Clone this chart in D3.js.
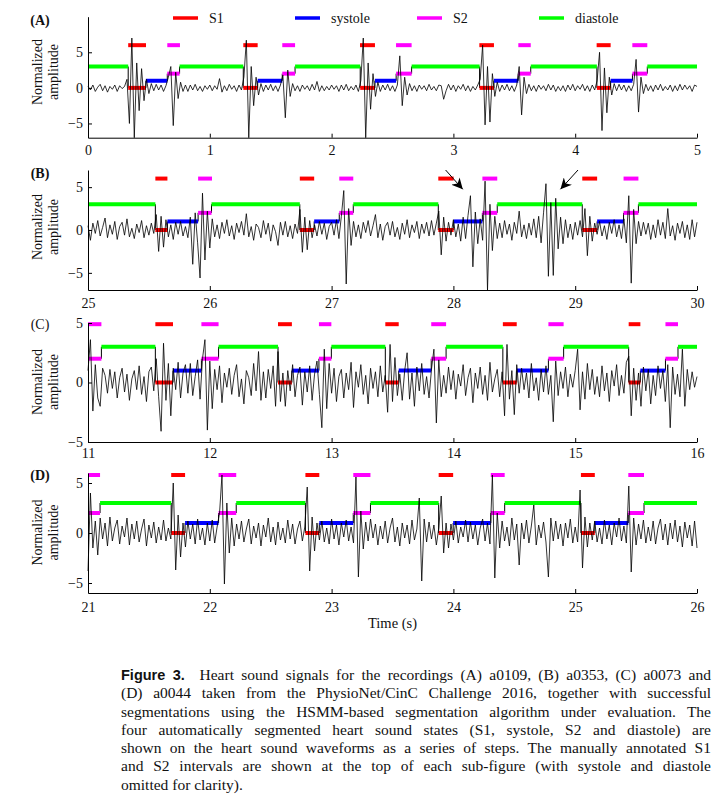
<!DOCTYPE html>
<html><head><meta charset="utf-8">
<script src="https://cdn.jsdelivr.net/npm/d3@7"></script>
<style>
body{margin:0;background:#fff;width:727px;height:807px;overflow:hidden;position:relative}
svg{position:absolute;left:0;top:0}
#cap{position:absolute;left:121px;top:666px;width:590px;font-family:"Liberation Serif","Times New Roman",serif;font-size:15.5px;line-height:18.3px;color:#111}
#cap div{white-space:nowrap;text-align:justify;text-align-last:justify}
#cap div.last{text-align-last:left}
#cap b{font-family:"Liberation Sans",Arial,sans-serif;font-weight:bold;font-size:14.5px}
</style></head><body>
<svg id="chart" width="727" height="660"></svg>
<div id="cap"></div>
<script>
// ---------------- DATA ----------------
const stateNames = ["S1", "systole", "S2", "diastole"];
const stateLevels = [0, 1, 2, 3];
const stateColors = ["#ff0000", "#0000ff", "#ff00ff", "#00ff00"];
const panelLabels = ["(A)", "(B)", "(C)", "(D)"];
const xDomains = [[0, 5], [25, 30], [11, 16], [21, 26]];
const yDomains = [[-7, 10], [-7, 7], [-5, 5], [-6, 6]];
const xTicksA = [0, 1, 2, 3, 4, 5];
const xTicksB = [25, 26, 27, 28, 29, 30];
const xTicksC = [11, 12, 13, 14, 15, 16];
const xTicksD = [21, 22, 23, 24, 25, 26];
const yTicks = [-5, 0, 5];
const annotationLevels = [6, 6, 4.9, 5.8];
const sampleStep = 0.02; // seconds between signal samples

// Panel A (a0109)
const signalA = [
 0.2,-0.3,0.4,-0.5,0.1,0.5,-0.4,0.3,-0.6,0.2,
 -0.2,0.4,-0.5,0.3,-0.1,0.2,1.2,-5.0,7.0,-7.0,
 3.5,-3.2,2.7,-1.8,1.2,-0.8,0.6,-0.4,0.5,-0.3,
 0.4,-0.5,0.3,1.5,3.0,-5.3,2.2,-1.5,0.8,-0.5,
 0.4,-0.5,0.4,-0.3,0.5,-0.4,0.2,-0.5,0.3,-0.2,
 0.4,-0.4,0.3,-0.2,1.3,-0.6,0.3,-0.4,0.5,-0.2,
 0.3,-0.5,0.4,-0.3,1.5,6.7,-7.0,3.0,-2.5,1.5,
 -1.0,0.6,-0.5,0.4,-0.3,0.5,-0.4,0.3,-0.5,0.4,
 1.8,-4.2,2.5,-1.2,0.6,-0.4,0.3,-0.5,0.4,-0.2,
 0.3,-0.4,0.5,-0.3,0.9,-0.5,0.3,-0.4,0.2,-0.3,
 0.4,-0.2,0.3,-0.5,0.4,-0.3,0.5,-0.4,0.2,-0.3,
 0.4,-0.5,1.0,7.0,-7.0,3.5,-3.0,2.0,-1.2,0.8,
 -0.5,0.4,-0.3,0.5,-0.4,0.3,-0.5,0.4,4.5,-2.5,
 1.5,-1.0,0.6,-0.4,0.3,-0.5,0.4,-0.2,0.3,-0.4,
 0.5,-0.3,0.2,-0.4,0.4,0.3,-1.6,-0.4,0.5,-0.3,
 0.4,-0.5,0.3,-0.2,0.5,-0.4,0.3,-0.5,0.2,-0.3,
 0.4,1.2,6.0,-5.2,3.0,-4.8,2.0,-1.2,0.8,-0.5,
 0.4,-0.3,0.5,-0.4,0.3,-0.5,0.4,3.0,-3.8,1.5,
 -0.8,0.5,-0.4,0.3,-0.5,0.4,-0.2,0.3,-0.4,0.5,
 -0.3,0.4,-0.5,0.2,-0.4,0.3,-0.5,0.4,-0.3,0.5,
 -0.4,0.3,-0.2,0.5,-0.4,0.3,-0.5,0.4,-0.3,1.0,
 5.0,-6.0,2.8,-3.5,1.5,-1.0,0.6,-0.4,0.5,-0.3,
 0.4,-0.5,0.3,-0.4,0.5,4.0,-3.4,1.5,-0.8,0.5,
 -0.4,0.3,-0.5,0.4,-0.3,0.5,-0.4,0.2,-0.3,0.4,
 -0.5,0.3,-0.4,0.5,-0.3,0.4,-0.2,0.3,-0.5,0.4,0.2
];
const segTimesA = [0, 0.33, 0.475, 0.651, 0.752, 1.275, 1.393, 1.595, 1.70, 2.235, 2.356, 2.53, 2.657, 3.215, 3.333, 3.533, 3.635, 4.178, 4.291, 4.47, 4.592];
const segStatesA = ["diastole","S1","systole","S2","diastole","S1","systole","S2","diastole","S1","systole","S2","diastole","S1","systole","S2","diastole","S1","systole","S2","diastole"];
const annS1A = [[0.33,0.476],[1.275,1.393],[2.233,2.356],[3.213,3.333],[4.176,4.291]];
const annS2A = [[0.651,0.755],[1.595,1.70],[2.529,2.657],[3.533,3.635],[4.469,4.592]];

// Panel B (a0353)
const signalB = [
 0.5,-1.2,0.8,-0.4,1.1,-0.7,0.3,1.4,-0.9,0.6,
 -0.5,1.0,-1.1,0.4,0.9,-0.6,1.3,-0.8,0.2,-1.0,
 0.7,-0.3,1.1,-0.9,0.5,-0.6,0.8,-0.4,1.8,-2.5,
 1.6,-2.0,1.2,-0.8,0.6,-1.1,0.9,-0.5,1.0,-0.7,
 0.4,-0.9,1.5,-4.0,2.0,-1.5,-5.6,4.3,-3.5,2.2,
 -2.1,1.3,-0.8,0.6,-1.0,0.9,-0.4,1.2,-0.7,0.5,
 -1.1,0.8,-0.3,1.0,-0.6,1.9,-0.8,0.4,-1.2,0.7,
 0.3,-0.9,1.1,-0.5,0.8,-1.3,0.6,-0.2,-1.8,0.9,
 -0.6,1.0,-0.8,0.5,-1.0,0.7,-0.4,2.4,-2.6,1.5,
 -2.3,1.1,-0.9,0.6,-0.7,1.0,-0.5,0.8,-1.1,0.4,
 0.9,-0.6,1.2,-1.0,1.6,4.6,-6.3,2.5,-1.8,1.0,
 -0.8,0.6,-1.0,0.9,-0.3,1.1,-0.7,0.5,1.8,-0.9,
 0.7,-1.2,0.4,0.9,-0.6,1.0,-0.8,0.3,-1.1,0.8,
 -0.5,1.2,-0.9,0.6,-0.3,1.0,-1.0,0.7,-0.4,0.9,
 -0.7,1.1,-0.6,0.8,2.2,-2.9,1.5,-1.3,0.9,-0.6,
 1.2,-0.8,0.7,-1.3,1.5,-1.0,1.7,4.0,-4.3,2.1,
 -1.6,1.3,-1.2,5.7,-7.0,3.0,-2.4,1.6,-1.0,0.8,
 -0.9,1.1,-0.5,0.7,-1.2,0.9,-0.4,2.2,-0.8,0.6,
 -1.0,0.8,-0.6,1.3,-0.9,1.6,-1.5,2.0,5.4,-5.4,
 3.2,-5.3,3.7,-2.2,1.5,-1.6,1.2,-0.9,0.7,-1.1,
 0.9,-0.6,1.1,-0.8,2.5,-3.0,1.6,-1.3,0.8,-0.5,
 1.0,-0.7,0.5,-1.1,0.9,-0.4,1.2,-0.8,0.6,-1.0,
 1.3,-1.5,4.0,-6.2,2.4,-1.6,1.0,-0.7,0.9,-0.5,
 0.8,-1.1,0.6,-0.9,1.2,-0.6,0.9,-1.0,2.5,-0.7,
 0.5,-1.2,0.8,-0.4,1.0,-0.9,0.6,-1.1,1.2,-0.8,0.9
];
const segTimesB = [25, 25.553, 25.652, 25.904, 26.014, 26.739, 26.857, 27.063, 27.178, 27.876, 28.002, 28.238, 28.36, 29.058, 29.18, 29.397, 29.519];
const segStatesB = ["diastole","S1","systole","S2","diastole","S1","systole","S2","diastole","S1","systole","S2","diastole","S1","systole","S2","diastole"];
const annS1B = [[25.553,25.652],[26.739,26.857],[27.876,28.002],[29.058,29.18]];
const annS2B = [[25.904,26.018],[27.063,27.178],[28.238,28.36],[29.397,29.519]];
// arrows in panel B: [tailTime, tailValue, tipTime, tipValue]
const arrowsB = [[27.936, 7.0, 28.077, 4.75], [29.023, 7.0, 28.879, 4.75]];

// Panel C (a0073)
const signalC = [
 1.0,3.6,-2.4,1.5,-1.3,-2.0,1.2,0.6,-0.9,1.1,
 -0.5,0.9,-1.3,0.4,1.2,-0.8,0.7,-1.5,0.3,1.0,
 -0.6,1.4,-1.0,0.5,-1.6,0.9,1.3,-0.7,2.0,-1.2,
 -4.1,3.3,-1.5,1.6,-2.8,1.2,-0.6,1.7,-1.3,0.8,
 1.5,-0.9,1.6,-1.1,0.5,1.9,-1.4,2.0,3.6,-4.0,
 1.8,-2.2,1.1,-0.6,1.4,-1.7,0.8,-0.4,1.2,-1.0,
 0.6,1.5,-1.2,0.3,-1.8,1.0,0.4,-1.1,1.6,-0.7,
 2.6,-1.5,0.9,-1.3,1.1,-0.5,1.4,-2.0,2.6,-1.6,
 0.8,-2.0,1.0,-0.7,1.5,-1.2,0.6,1.3,-1.9,0.9,
 -0.8,1.4,-1.5,0.7,1.8,-1.0,-3.8,2.8,-2.2,1.6,
 -0.9,1.2,-1.6,0.5,1.1,-1.3,0.8,-0.6,1.7,-2.1,
 0.9,-0.4,1.5,-1.0,0.6,-1.8,1.2,-0.5,0.9,-1.2,
 1.4,-0.8,0.6,-2.5,3.2,-1.6,2.1,-1.1,0.7,-1.5,
 1.0,2.5,-1.4,0.8,-2.0,1.3,-0.7,1.6,-1.0,0.5,
 -1.3,1.1,2.8,-3.4,1.9,-1.2,0.6,-0.9,1.3,-0.6,
 1.0,-1.4,0.7,-0.3,1.5,-1.1,0.4,1.2,-1.7,0.8,
 -0.5,1.3,-1.0,0.6,-1.5,1.7,-0.8,0.3,1.1,-1.2,
 0.9,-2.8,3.2,-1.4,1.0,-2.7,1.5,-0.9,1.2,-0.6,
 0.8,-1.3,1.6,-0.7,0.4,-1.5,1.1,-0.8,1.4,-1.0,
 0.6,-3.3,1.8,-1.1,0.9,-0.5,1.3,-1.2,0.7,-0.4,
 1.0,2.8,-2.3,0.9,-1.4,1.6,-0.6,1.1,-1.0,0.5,
 -1.2,1.4,-0.7,0.8,-1.6,1.0,-0.3,1.5,-1.1,0.6,
 -0.9,1.7,2.2,-2.8,1.2,-1.5,0.8,-2.0,1.3,-0.7,
 1.1,-1.8,0.6,-1.1,1.4,-0.5,1.0,-1.6,1.5,-3.8,
 1.3,-1.0,0.7,-1.2,2.8,-2.0,1.1,-0.6,0.9,-0.4,0.5
];
const segTimesC = [11, 11.11, 11.553, 11.698, 11.931, 12.072, 12.56, 12.674, 12.896, 12.998, 13.441, 13.551, 13.818, 13.94, 14.406, 14.52, 14.78, 14.905, 15.439, 15.535, 15.741, 15.844];
const segStatesC = ["S2","diastole","S1","systole","S2","diastole","S1","systole","S2","diastole","S1","systole","S2","diastole","S1","systole","S2","diastole","S1","systole","S2","diastole"];
const annS1C = [[11.553,11.698],[12.56,12.674],[13.441,13.551],[14.406,14.52],[15.439,15.535]];
const annS2C = [[11,11.11],[11.931,12.072],[12.896,12.998],[13.818,13.94],[14.78,14.905],[15.741,15.844]];

// Panel D (a0044)
const signalD = [
 -3.8,4.0,-1.5,1.2,-2.2,1.5,-0.6,1.0,-1.3,1.6,
 -0.8,0.5,1.3,-1.1,0.7,-0.4,1.5,-1.2,0.9,-0.6,
 1.2,-0.9,0.4,1.4,-1.3,0.8,-0.5,1.1,-1.0,0.6,
 -0.7,1.3,-0.8,0.5,-0.6,5.0,-3.7,1.8,-2.4,1.0,
 -1.4,1.2,-0.6,0.9,-1.1,1.4,-0.7,0.5,-1.2,1.0,
 -0.8,1.3,-1.0,0.6,2.0,5.8,-5.1,3.0,-2.0,1.5,
 -1.3,0.9,-0.6,1.2,-0.9,0.4,1.4,-1.1,0.7,-0.5,
 1.0,-1.3,0.8,-0.4,1.5,-0.9,0.6,-1.2,1.1,-0.7,
 0.5,-1.0,1.3,-0.6,0.9,-1.1,0.4,1.2,-0.8,0.6,
 4.6,-3.8,1.6,-1.8,1.0,-0.7,1.2,-0.9,0.5,-1.1,
 1.4,-0.6,0.8,-1.2,1.0,-0.4,1.3,-0.8,0.6,-1.0,
 5.6,-4.4,2.2,-1.6,1.1,-0.8,1.4,-0.5,0.9,-1.2,
 0.7,-0.6,1.2,-1.0,0.5,1.5,-0.9,0.6,-1.3,1.0,
 -0.5,0.8,-1.1,1.3,-0.7,0.4,3.5,-4.8,1.4,-0.9,
 1.1,-0.6,0.8,-1.2,0.5,3.7,-2.0,1.0,-1.5,0.9,
 -0.7,1.2,-1.0,0.6,-0.4,1.3,-0.9,1.1,-0.6,0.8,
 -1.2,0.5,1.4,-0.8,1.0,-1.1,5.8,-4.5,2.0,-1.5,
 1.2,-0.8,0.6,-1.3,1.5,-0.7,0.9,-3.2,1.0,-0.6,
 1.3,-1.0,0.7,2.8,-1.2,0.8,-0.5,1.1,-0.9,-4.4,
 1.5,-0.8,1.2,-0.6,0.9,-1.3,1.0,-0.5,1.4,-1.0,
 0.6,-0.9,4.3,-3.5,1.6,-1.4,1.0,-0.7,1.2,-0.9,
 0.5,-1.1,1.3,-0.6,0.8,-1.2,1.0,-0.4,1.5,-0.8,
 0.7,-1.0,4.7,-3.9,1.5,-1.2,0.9,-0.6,1.3,-1.0,
 0.6,-0.8,1.2,-1.1,0.5,1.4,-0.7,0.9,-1.2,1.0,
 -0.6,1.3,-0.9,0.7,-1.4,1.1,-0.5,0.8,-1.3,1.2,-1.5
];
const segTimesD = [21, 21.099, 21.683, 21.797, 22.072, 22.217, 22.785, 22.899, 23.178, 23.319, 23.879, 23.998, 24.307, 24.421, 25.047, 25.161, 25.436, 25.565];
const segStatesD = ["S2","diastole","S1","systole","S2","diastole","S1","systole","S2","diastole","S1","systole","S2","diastole","S1","systole","S2","diastole"];
const annS1D = [[21.683,21.797],[22.785,22.899],[23.879,23.998],[25.047,25.161]];
const annS2D = [[21,21.099],[22.072,22.217],[23.178,23.319],[24.307,24.421],[25.436,25.565]];

const captionLines = [
 "<b>Figure 3.</b>&nbsp; Heart sound signals for the recordings (A) a0109, (B) a0353, (C) a0073 and",
 "(D) a0044 taken from the PhysioNet/CinC Challenge 2016, together with successful",
 "segmentations using the HSMM-based segmentation algorithm under evaluation. The",
 "four automatically segmented heart sound states (S1, systole, S2 and diastole) are",
 "shown on the heart sound waveforms as a series of steps. The manually annotated S1",
 "and S2 intervals are shown at the top of each sub-figure (with systole and diastole",
 "omitted for clarity)."
];

// ---------------- LAYOUT ----------------
const FONT = '"Liberation Serif","Times New Roman",serif';
const X0 = 88, X1 = 697;
const layout = [
 {top: 16.7, bottom: 137.7, labelY: 25, ylabY: 72, tickY: 155, bold: true},
 {top: 170, bottom: 290, labelY: 178, ylabY: 227, tickY: 308, bold: true},
 {top: 323, bottom: 442, labelY: 329, ylabY: 382, tickY: 458, bold: false},
 {top: 473, bottom: 593, labelY: 480, ylabY: 532.5, tickY: 612, bold: true}
];
const panels = [
 {signal: signalA, times: segTimesA, states: segStatesA, s1: annS1A, s2: annS2A, ticks: xTicksA},
 {signal: signalB, times: segTimesB, states: segStatesB, s1: annS1B, s2: annS2B, ticks: xTicksB},
 {signal: signalC, times: segTimesC, states: segStatesC, s1: annS1C, s2: annS2C, ticks: xTicksC},
 {signal: signalD, times: segTimesD, states: segStatesD, s1: annS1D, s2: annS2D, ticks: xTicksD}
];

const svg = d3.select("#chart");
const defs = svg.append("defs");
defs.append("marker").attr("id", "arr").attr("viewBox", "0 0 10 10")
  .attr("refX", 10).attr("refY", 5).attr("markerWidth", 11).attr("markerHeight", 11)
  .attr("markerUnits", "userSpaceOnUse").attr("orient", "auto")
  .append("path").attr("d", "M0,0 L10,5 L0,10 L3,5 Z").attr("fill", "#000");

panels.forEach((p, k) => {
  const L = layout[k];
  const x = d3.scaleLinear().domain(xDomains[k]).range([X0, X1]);
  const y = d3.scaleLinear().domain(yDomains[k]).range([L.bottom, L.top]);
  const g = svg.append("g");
  const xEnd = xDomains[k][1];
  const segs = p.times.map((t, i) => ({
    t0: t, t1: i + 1 < p.times.length ? p.times[i + 1] : xEnd,
    s: stateNames.indexOf(p.states[i])
  }));

  // black connectors of the step line
  g.append("g").selectAll("line").data(segs.slice(1)).join("line")
    .attr("x1", d => x(d.t0)).attr("x2", d => x(d.t0))
    .attr("y1", (d, i) => y(stateLevels[segs[i].s])).attr("y2", d => y(stateLevels[d.s]))
    .attr("stroke", "#000").attr("stroke-width", 1);

  // coloured state segments
  g.append("g").selectAll("line").data(segs).join("line")
    .attr("x1", d => x(d.t0)).attr("x2", d => x(d.t1))
    .attr("y1", d => y(stateLevels[d.s])).attr("y2", d => y(stateLevels[d.s]))
    .attr("stroke", d => stateColors[d.s]).attr("stroke-width", 4);

  // manual annotations
  const ann = p.s1.map(d => ({a: d[0], b: d[1], s: 0})).concat(p.s2.map(d => ({a: d[0], b: d[1], s: 2})));
  g.append("g").selectAll("line").data(ann).join("line")
    .attr("x1", d => x(d.a)).attr("x2", d => x(d.b))
    .attr("y1", y(annotationLevels[k])).attr("y2", y(annotationLevels[k]))
    .attr("stroke", d => stateColors[d.s]).attr("stroke-width", 4);

  // signal
  const line = d3.line().x((d, i) => x(xDomains[k][0] + i * sampleStep)).y(d => y(d));
  g.append("path").datum(p.signal).attr("d", line)
    .attr("fill", "none").attr("stroke", "#000").attr("stroke-width", 0.8).attr("stroke-linejoin", "round");

  // axes
  const xa = g.append("g").attr("transform", `translate(0,${L.bottom})`)
    .call(d3.axisBottom(x).tickValues(p.ticks).tickFormat(d3.format("d")).tickSizeInner(-4).tickSizeOuter(0));
  xa.selectAll("text").attr("y", L.tickY - L.bottom).attr("dy", null)
    .style("font-family", FONT).style("font-size", "14px").attr("fill", "#111");
  const ya = g.append("g").attr("transform", `translate(${X0},0)`)
    .call(d3.axisLeft(y).tickValues(yTicks).tickFormat(d => d < 0 ? "\u2212" + Math.abs(d) : d).tickSizeInner(-4).tickSizeOuter(0).tickPadding(5));
  ya.selectAll("text").style("font-family", FONT).style("font-size", "14px").attr("fill", "#111");
  [xa, ya].forEach(a => { a.select(".domain").attr("stroke", "#000"); a.selectAll(".tick line").attr("stroke", "#000"); });

  // panel label
  g.append("text").attr("x", 40).attr("y", L.labelY).attr("text-anchor", "middle")
    .style("font-family", FONT).style("font-size", "14px").style("font-weight", L.bold ? "bold" : "normal")
    .attr("fill", "#111").text(panelLabels[k]);

  // y label
  const yl = g.append("text").attr("transform", `translate(45,${L.ylabY}) rotate(-90)`)
    .attr("text-anchor", "middle").style("font-family", FONT).style("font-size", "14px").attr("fill", "#111");
  yl.append("tspan").attr("x", 0).attr("y", -3).text("Normalized");
  yl.append("tspan").attr("x", 0).attr("y", 13).text("amplitude");

  if (k === 1) {
    g.append("g").selectAll("line").data(arrowsB).join("line")
      .attr("x1", d => x(d[0])).attr("y1", d => y(d[1]))
      .attr("x2", d => x(d[2])).attr("y2", d => y(d[3]))
      .attr("stroke", "#000").attr("stroke-width", 1).attr("marker-end", "url(#arr)");
  }
  if (k === 3) {
    g.append("text").attr("x", (X0 + X1) / 2).attr("y", 628).attr("text-anchor", "middle")
      .style("font-family", FONT).style("font-size", "14.5px").attr("fill", "#111").text("Time (s)");
  }
});

// legend (panel A)
const legX = [173, 295, 417, 539];
const lg = svg.append("g");
stateNames.forEach((s, i) => {
  lg.append("line").attr("x1", legX[i]).attr("x2", legX[i] + 25).attr("y1", 18).attr("y2", 18)
    .attr("stroke", stateColors[i]).attr("stroke-width", 3.5);
  lg.append("text").attr("x", legX[i] + 36).attr("y", 23).style("font-family", FONT).style("font-size", "14px")
    .attr("fill", "#111").text(s);
});

// caption
const cap = d3.select("#cap");
captionLines.forEach((t, i) => {
  cap.append("div").attr("class", i === captionLines.length - 1 ? "last" : null).html(t);
});
</script>
</body></html>
